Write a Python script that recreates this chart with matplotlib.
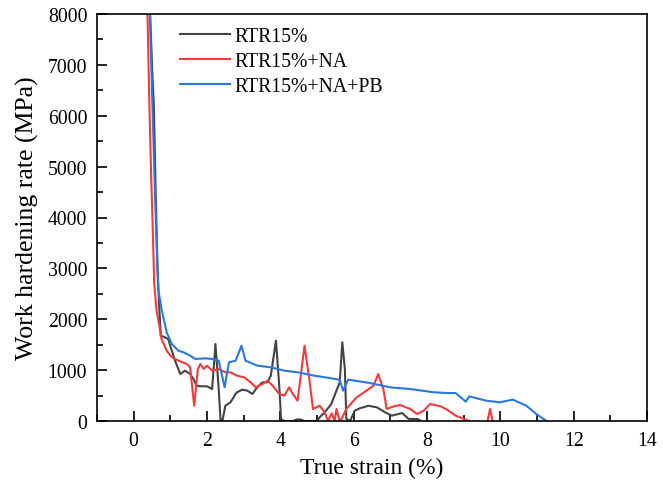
import numpy as np
import matplotlib
matplotlib.use("Agg")
import matplotlib.pyplot as plt
from matplotlib.ticker import MultipleLocator

nan = np.nan

# RTR15% (black)
x_k = [0.40, 0.45, 0.50, 0.55, 0.60, 0.65, 0.70, 0.74, 0.85, 0.94, 1.04, 1.13, 1.27, 1.40, 1.54, 1.63,
       1.72, 1.82, 2.00, 2.14, 2.23, 2.32, 2.37, 2.42, 2.50, 2.64, 2.78, 2.82, 2.96, 3.10, 3.24, 3.37,
       3.51, 3.65, 3.74, 3.88, 3.97, 4.02, 4.10, 4.35, 4.45, 4.55, 4.65, 5.00, 5.07, 5.21, 5.39, 5.53,
       5.62, 5.69, 5.76, 5.80, 5.90, 6.03, 6.17, 6.40, 6.63, 6.86, 7.04, 7.22, 7.32, 7.50, 7.73, 7.80]
y_k = [9000, 8000, 7000, 6200, 4500, 3000, 2200, 1677, 1645, 1612, 1382, 1186, 924, 990, 924, 826,
       694, 682, 682, 629, 1514, 629, 0, 0, 300, 367, 531, 564, 616, 596, 531, 662,
       760, 760, 891, 1579, 694, 40, 0, 0, 30, 30, 0, 0, 72, 171, 334, 596,
       760, 1547, 1022, 40, 0, 203, 250, 300, 269, 171, 105, 138, 157, 40, 40, 20]

# RTR15%+NA (red)
x_r = [0.34, 0.377, 0.42, 0.47, 0.52, 0.56, 0.62, 0.76, 0.90, 1.04, 1.22, 1.45, 1.54, 1.65, 1.75,
       1.82, 1.91, 2.00, 2.14, 2.32, 2.50, 2.64, 2.82, 3.01, 3.19, 3.33, 3.51, 3.65, 3.79, 3.97,
       4.11, 4.24, 4.34, 4.47, 4.66, 4.79, 4.89, 5.07, 5.21, 5.30, 5.40, 5.48, 5.53, 5.62, 5.67,
       5.80, 6.08, 6.35, 6.54, 6.67, 6.81, 6.90, 7.09, 7.27, 7.54, 7.73, 7.91, 8.09, 8.37, 8.55,
       8.78, 9.15, 9.60, 9.65, 9.72, 9.79]
y_r = [9000, 8000, 6500, 5000, 3800, 2700, 2200, 1612, 1382, 1252, 1186, 1120, 1055, 300, 1022,
       1120, 1022, 1088, 990, 1022, 957, 957, 891, 859, 760, 662, 727, 793, 694, 531,
       498, 662, 531, 400, 1480, 826, 236, 300, 171, 0, 150, 0, 236, 0, 40,
       236, 466, 596, 694, 924, 629, 236, 288, 314, 236, 138, 203, 334, 288, 223,
       105, 0, nan, 0, 236, 0]

# RTR15%+NA+PB (blue)
x_b = [0.40, 0.44, 0.50, 0.56, 0.62, 0.67, 0.76, 0.90, 1.04, 1.22, 1.36, 1.54, 1.68, 1.95, 2.14,
       2.32, 2.48, 2.60, 2.78, 2.94, 3.05, 3.37, 3.74, 4.11, 4.47, 4.93, 5.39, 5.62, 5.71, 5.85,
       6.44, 6.99, 7.54, 8.19, 8.55, 8.78, 9.06, 9.15, 9.61, 9.98, 10.34, 10.71, 10.98, 11.26]
y_b = [9000, 8000, 6500, 5000, 3600, 2595, 2200, 1744, 1514, 1382, 1350, 1284, 1219, 1232, 1219,
       1186, 662, 1153, 1186, 1480, 1186, 1088, 1055, 990, 957, 891, 839, 810, 596, 813,
       747, 662, 629, 564, 550, 550, 380, 485, 400, 367, 420, 300, 138, 0]

labels = ["RTR15%", "RTR15%+NA", "RTR15%+NA+PB"]
colors = ["#444444", "#f23b3b", "#2a78e4"]

plt.rcParams["font.family"] = ["Liberation Serif", "DejaVu Serif"]

fig = plt.figure(figsize=(6.63, 4.85), dpi=100)
ax = fig.add_axes([97 / 663, 1 - 422 / 485, 550 / 663, 407 / 485])

for xs, ys, c, lab in zip([x_k, x_r, x_b], [y_k, y_r, y_b], colors, labels):
    ax.plot(xs, ys, color=c, lw=1.5, label=lab)

ax.set_xlim(-1, 14)
ax.set_ylim(0, 8000)
ax.xaxis.set_major_locator(MultipleLocator(2))
ax.xaxis.set_minor_locator(MultipleLocator(1))
ax.yaxis.set_major_locator(MultipleLocator(1000))
ax.yaxis.set_minor_locator(MultipleLocator(500))
ax.tick_params(which="both", direction="in", top=False, right=False, width=1.2, labelsize=14.2)
ax.tick_params(which="major", length=7)
ax.tick_params(which="minor", length=4)
ax.tick_params(axis="x", pad=7)
ax.tick_params(axis="y", pad=7)
for s in ax.spines.values():
    s.set_linewidth(1.2)

ax.set_xlabel("True strain (%)", fontsize=17, labelpad=5)
ax.set_ylabel("Work hardening rate (MPa)", fontsize=18.5, labelpad=6)

ax.legend(loc="upper left", bbox_to_anchor=(0.128, 1.0), frameon=False, fontsize=14.2,
          handlelength=2.5, handletextpad=0.25, labelspacing=0.3, borderaxespad=0.25)

fig.savefig("out.png", dpi=100)
